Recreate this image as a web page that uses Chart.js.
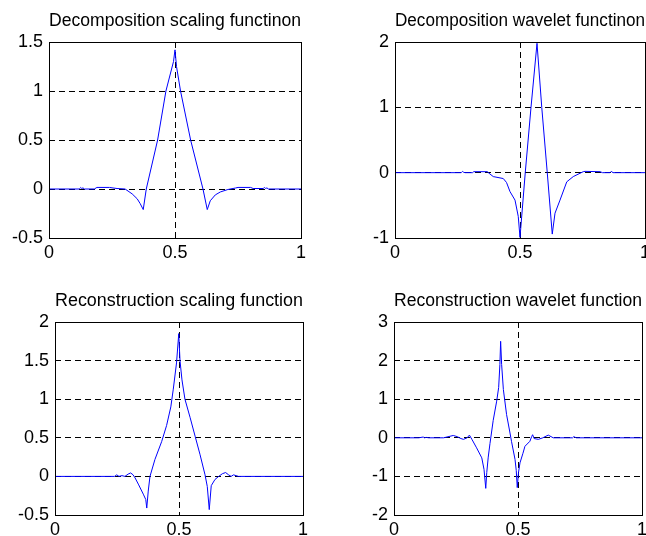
<!DOCTYPE html>
<html>
<head>
<meta charset="utf-8">
<title>Wavelet functions</title>
<script src="https://cdn.jsdelivr.net/npm/chart.js@4.4.0/dist/chart.umd.min.js"></script>
<style>
  html, body { margin: 0; padding: 0; background: #fff; overflow: hidden; }
  #figure { width: 646px; height: 536px; position: relative; overflow: hidden; }
  .plot { position: absolute; }
</style>
</head>
<body>
<div id="figure">
  <canvas id="decScaling" class="plot"></canvas>
  <canvas id="decWavelet" class="plot"></canvas>
  <canvas id="recScaling" class="plot"></canvas>
  <canvas id="recWavelet" class="plot"></canvas>
</div>
<script>
/* --- data --- */
const xTicks = [0, 0.5, 1];

const decScalingTicks = [-0.5, 0, 0.5, 1, 1.5];
const decScalingX = [0, 0.12, 0.126, 0.13, 0.135, 0.14, 0.18, 0.19, 0.24, 0.25, 0.27,
  0.302, 0.33, 0.35, 0.362, 0.374, 0.386, 0.431, 0.464, 0.494, 0.5,
  0.506, 0.522, 0.562, 0.611, 0.628, 0.64, 0.66, 0.68, 0.71, 0.74,
  0.75, 0.8, 0.81, 0.85, 0.855, 0.86, 0.865, 0.87, 1];
const decScalingY = [0, 0, 0.015, 0.005, 0.012, 0, 0, 0.016, 0.016, 0.012, 0.005,
  0, -0.05, -0.1, -0.15, -0.21, 0, 0.5, 1.0, 1.3, 1.42,
  1.25, 1.0, 0.5, 0, -0.21, -0.12, -0.06, -0.03, -0.005, 0.01,
  0.016, 0.016, 0.005, 0.005, 0.015, 0.005, 0.012, 0, 0];

const decWaveletTicks = [-1, 0, 1, 2];
const decWaveletX = [0, 0.265, 0.27, 0.275, 0.28, 0.31, 0.315, 0.37, 0.373, 0.393,
  0.433, 0.446, 0.46, 0.48, 0.493, 0.5, 0.521, 0.544, 0.568, 0.587,
  0.609, 0.629, 0.64, 0.66, 0.687, 0.713, 0.753, 0.76, 0.82, 0.83,
  0.86, 0.865, 0.872, 1];
const decWaveletY = [0, 0, 0.02, 0.005, 0, 0, 0.015, 0.015, 0, -0.06,
  -0.09, -0.15, -0.29, -0.42, -0.67, -0.99, 0, 1.0, 1.98, 1.0,
  0, -0.94, -0.62, -0.42, -0.14, -0.06, 0.015, 0.02, 0.015, 0,
  0, 0.02, 0, 0];

const recScalingTicks = [-0.5, 0, 0.5, 1, 1.5, 2];
const recScalingX = [0, 0.24, 0.249, 0.258, 0.27, 0.282, 0.295, 0.305, 0.315, 0.323,
  0.336, 0.356, 0.366, 0.37, 0.376, 0.383, 0.403, 0.43, 0.45, 0.467,
  0.477, 0.49, 0.499, 0.504, 0.512, 0.524, 0.545, 0.565, 0.585, 0.605,
  0.614, 0.622, 0.63, 0.645, 0.66, 0.675, 0.688, 0.7, 0.71, 0.72,
  0.73, 0.74, 1];
const recScalingY = [0, 0, 0.02, 0, 0.01, 0, 0.03, 0.045, 0.02, -0.02,
  -0.1, -0.23, -0.3, -0.41, -0.19, 0, 0.22, 0.45, 0.66, 0.9,
  1.13, 1.47, 1.85, 1.5, 1.25, 1.0, 0.76, 0.52, 0.28, 0.02,
  -0.13, -0.43, -0.12, -0.04, 0, 0.035, 0.05, 0.02, 0, 0.02,
  0.01, 0, 0];

const recWaveletTicks = [-2, -1, 0, 1, 2, 3];
const recWaveletX = [0, 0.1, 0.118, 0.122, 0.13, 0.14, 0.2, 0.239, 0.255, 0.27,
  0.28, 0.295, 0.304, 0.315, 0.333, 0.354, 0.363, 0.37, 0.374, 0.38,
  0.387, 0.4, 0.414, 0.422, 0.427, 0.43, 0.434, 0.441, 0.454, 0.467,
  0.474, 0.488, 0.493, 0.497, 0.502, 0.508, 0.52, 0.528, 0.548, 0.555,
  0.559, 0.565, 0.582, 0.6, 0.622, 0.642, 0.72, 0.725, 0.735, 1];
const recWaveletY = [0, 0, 0.02, 0, 0.01, 0, 0, 0.06, 0.03, -0.02,
  -0.04, 0, 0.07, -0.05, -0.26, -0.52, -0.82, -1.31, -0.9, -0.5,
  -0.15, 0.45, 0.95, 1.3, 1.9, 2.5, 1.9, 1.25, 0.6, 0.15,
  -0.1, -0.56, -0.85, -1.29, -0.9, -0.65, -0.4, -0.22, -0.09, 0.03,
  0.08, -0.02, -0.04, 0, 0.07, 0, 0, 0.03, 0, 0];

/* --- drawing --- */
const FONT = { family: '"Liberation Sans", Arial, Helvetica, sans-serif', size: 18 };
const PAD = { left: 44, right: 24, top: 32, bottom: 26 };
const FIG_W = 646;

// solid frame around the plot area, drawn over the curve
const axesBox = {
  id: 'axesBox',
  afterDatasetsDraw(chart) {
    const { ctx, chartArea: a } = chart;
    ctx.save();
    ctx.strokeStyle = '#000';
    ctx.lineWidth = 1;
    ctx.strokeRect(a.left + 0.5, a.top + 0.5, a.right - a.left, a.bottom - a.top);
    ctx.restore();
  }
};

function innerGrid(min, max) {
  return (c) => (c.tick && c.tick.value > min && c.tick.value < max) ? '#000' : 'rgba(0,0,0,0)';
}

function makePlot(id, box, title, xs, ys, yTicks) {
  const canvas = document.getElementById(id);
  // keep the canvas inside the figure; anything past the edge is cut off
  const padRight = Math.max(1, Math.min(PAD.right, FIG_W - box.right));
  canvas.width = box.right - box.left + PAD.left + padRight;
  canvas.height = box.bottom - box.top + PAD.top + PAD.bottom;
  canvas.style.left = (box.left - PAD.left) + 'px';
  canvas.style.top = (box.top - PAD.top) + 'px';

  const yMin = yTicks[0], yMax = yTicks[yTicks.length - 1];
  const points = xs.map((x, i) => ({ x, y: ys[i] }));

  new Chart(canvas, {
    type: 'scatter',
    data: {
      datasets: [{
        data: points,
        showLine: true,
        borderColor: '#0000ff',
        borderWidth: 1,
        pointRadius: 0,
        tension: 0
      }]
    },
    options: {
      responsive: false,
      animation: false,
      layout: { padding: { left: 0, right: padRight, top: 0, bottom: 0 } },
      plugins: {
        legend: { display: false },
        tooltip: { enabled: false },
        title: {
          display: true,
          text: title,
          color: '#000',
          fullSize: false,
          font: { ...FONT, weight: 'normal' },
          padding: { top: 0, bottom: PAD.top - FONT.size * 1.2 }
        }
      },
      scales: {
        x: {
          type: 'linear',
          min: 0, max: 1,
          afterBuildTicks: (s) => { s.ticks = xTicks.map(v => ({ value: v })); },
          afterFit: (s) => { s.height = PAD.bottom; s.paddingLeft = 0; s.paddingRight = 0; },
          ticks: { color: '#000', font: FONT, padding: 4, maxRotation: 0, callback: (v) => String(v) },
          grid: { color: innerGrid(0, 1), lineWidth: 1, drawTicks: false },
          border: { display: false, dash: [6, 4] }
        },
        y: {
          min: yMin, max: yMax,
          afterBuildTicks: (s) => { s.ticks = yTicks.map(v => ({ value: v })); },
          afterFit: (s) => { s.width = PAD.left; s.paddingTop = 0; s.paddingBottom = 0; },
          ticks: { color: '#000', font: FONT, padding: 6, callback: (v) => String(v) },
          grid: { color: innerGrid(yMin, yMax), lineWidth: 1, drawTicks: false },
          border: { display: false, dash: [6, 4] }
        }
      }
    },
    plugins: [axesBox]
  });
}

makePlot('decScaling', { left: 49, top: 42, right: 301, bottom: 238 },
  'Decomposition scaling functinon', decScalingX, decScalingY, decScalingTicks);
makePlot('decWavelet', { left: 395, top: 42, right: 645, bottom: 238 },
  'Decomposition wavelet functinon', decWaveletX, decWaveletY, decWaveletTicks);
makePlot('recScaling', { left: 55, top: 322, right: 303, bottom: 515 },
  'Reconstruction scaling function', recScalingX, recScalingY, recScalingTicks);
makePlot('recWavelet', { left: 394, top: 322, right: 642, bottom: 515 },
  'Reconstruction wavelet function', recWaveletX, recWaveletY, recWaveletTicks);
</script>
</body>
</html>
